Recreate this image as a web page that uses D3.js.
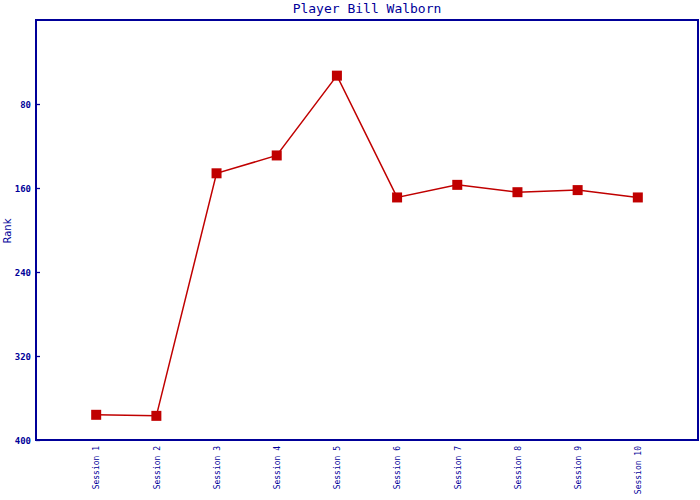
<!DOCTYPE html>
<html><head><meta charset="utf-8">
<script src="https://cdn.jsdelivr.net/npm/d3@7"></script>
<style>body{margin:0;background:#fff}</style>
</head><body>
<svg id="c" width="700" height="500"></svg>
<script>
const categories = ["Session 1","Session 2","Session 3","Session 4","Session 5","Session 6","Session 7","Session 8","Session 9","Session 10"];
const rankValues = [376, 377, 146, 129, 53, 169, 157, 164, 162, 169];
const yTicks = [80, 160, 240, 320, 400];
const titleText = "Player Bill Walborn";
const yLabel = "Rank";

const blue = "#000099", red = "#c00000";
const svg = d3.select("#c");
const L = 36, R = 698, T = 20, B = 440;
const x = d3.scalePoint().domain(categories).range([L, R]).padding(1);
const y = d3.scaleLinear().domain([0, 400]).range([T, B]);

svg.append("rect").attr("x", L).attr("y", T).attr("width", R - L).attr("height", B - T)
  .attr("fill", "none").attr("stroke", blue).attr("stroke-width", 1.3).attr("shape-rendering","crispEdges");

svg.append("text").attr("x", 367).attr("y", 13).attr("text-anchor", "middle")
  .attr("font-family", "DejaVu Sans Mono, monospace").attr("font-size", 13).attr("fill", blue).text(titleText);

const ya = svg.append("g").attr("transform", `translate(${L},0)`)
  .call(d3.axisRight(y).tickValues(yTicks).tickSize(4).tickFormat(d3.format("d")));
ya.select(".domain").remove();
ya.selectAll("line").attr("stroke", blue).attr("stroke-width", 1.3);
ya.selectAll("text").attr("x", -5).attr("text-anchor", "end").attr("fill", blue)
  .attr("font-family", "DejaVu Sans Mono, monospace").attr("font-size", 9).attr("font-weight", "bold").attr("dy","0.35em");

const xa = svg.append("g").attr("transform", `translate(0,${B})`)
  .call(d3.axisBottom(x).tickSize(0));
xa.select(".domain").remove();
xa.selectAll("text").attr("transform", "rotate(-90)").attr("x", -6).attr("y", 0).attr("dy", "0.35em")
  .attr("text-anchor", "end").attr("fill", blue)
  .attr("font-family", "DejaVu Sans Mono, monospace").attr("font-size", 8);

svg.append("text").attr("transform", "translate(11,231) rotate(-90)").attr("text-anchor", "middle")
  .attr("font-family", "DejaVu Sans, sans-serif").attr("font-size", 10).attr("fill", blue).text(yLabel);

const line = d3.line().x((d, i) => x(categories[i])).y(d => y(d));
svg.append("path").datum(rankValues).attr("d", line).attr("fill", "none")
  .attr("stroke", red).attr("stroke-width", 1.5);

svg.selectAll("rect.m").data(rankValues).enter().append("rect").attr("class", "m")
  .attr("x", (d, i) => x(categories[i]) - 5).attr("y", d => y(d) - 5)
  .attr("width", 10).attr("height", 10).attr("fill", red);
</script>
</body></html>
